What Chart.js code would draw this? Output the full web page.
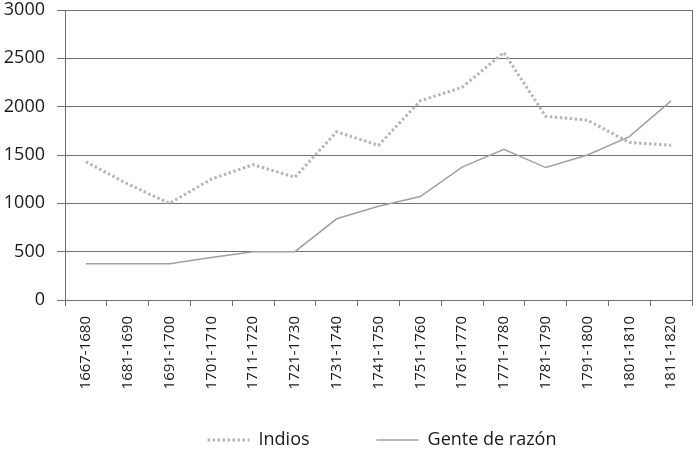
<!DOCTYPE html>
<html>
<head>
<meta charset="utf-8">
<script src="https://cdn.jsdelivr.net/npm/chart.js@4.4.1/dist/chart.umd.min.js"></script>
<style>
html,body{margin:0;padding:0;background:#fff;}
#wrap{width:696px;height:452px;}
</style>
</head>
<body>
<div id="wrap"><canvas id="c" width="696" height="452"></canvas></div>
<script>
const periods = ["1667-1680","1681-1690","1691-1700","1701-1710","1711-1720","1721-1730","1731-1740","1741-1750","1751-1760","1761-1770","1771-1780","1781-1790","1791-1800","1801-1810","1811-1820"]
const indios = [1430,1200,1000,1250,1400,1270,1740,1600,2060,2200,2560,1900,1860,1630,1600]
const genteDeRazon = [375,375,375,440,500,500,840,970,1070,1375,1560,1370,1500,1690,2060]
const yTicks = [0,500,1000,1500,2000,2500,3000]

const gridColor = "#707070"
const legendPad = 67
const legendFont = 18
const legendCenterY = 440
const legendShift = 34

// right edge of the plot box + legend row placement
const boxTweaks = {
id:"boxTweaks",
afterLayout(chart){
const lg = chart.legend
if(lg){
lg.top = legendCenterY - legendFont/2 - legendPad
lg.left += legendShift
lg.right += legendShift
}
},
afterDraw(chart){
const a = chart.chartArea
const ctx = chart.ctx
ctx.save()
ctx.strokeStyle = gridColor
ctx.lineWidth = 1
ctx.beginPath()
ctx.moveTo(Math.round(a.right)+0.5, a.top)
ctx.lineTo(Math.round(a.right)+0.5, a.bottom)
ctx.stroke()
ctx.restore()
}
}

new Chart(document.getElementById("c"),{
type:"line",
data:{
labels:periods,
datasets:[
{
label:"Indios",
data:indios,
borderColor:"#b5b5b5",
borderWidth:3,
borderDash:[2.5,2.5],
pointRadius:0,
tension:0
},
{
label:"Gente de razón",
data:genteDeRazon,
borderColor:"#a0a0a0",
borderWidth:1.5,
pointRadius:0,
tension:0
}
]
},
options:{
responsive:false,
animation:false,
layout:{padding:0},
plugins:{
tooltip:{enabled:false},
legend:{
position:"bottom",
maxHeight:60,
labels:{
usePointStyle:true,
pointStyleWidth:42,
padding:legendPad,
color:"#1a1a1a",
font:{family:"'Open Sans', sans-serif",size:legendFont},
generateLabels(chart){
return chart.data.datasets.map((ds,i)=>({
text:ds.label,
datasetIndex:i,
pointStyle:"line",
strokeStyle:ds.borderColor,
fillStyle:ds.borderColor,
fontColor:"#1a1a1a",
lineWidth:ds.borderWidth,
lineDash:ds.borderDash || [],
hidden:false
}))
}
}
}
},
scales:{
x:{
offset:true,
grid:{offset:true,drawOnChartArea:false,drawTicks:true,tickLength:6,color:gridColor},
border:{display:true,color:gridColor},
ticks:{
autoSkip:false,minRotation:90,maxRotation:90,padding:10,
color:"#1a1a1a",
font:{family:"'Open Sans', sans-serif",size:15}
},
afterFit(scale){
scale.height = 92
scale.paddingLeft = 0
scale.paddingRight = 4
}
},
y:{
min:0,max:3000,
afterBuildTicks(scale){ scale.ticks = yTicks.map(v=>({value:v})) },
grid:{color:gridColor,tickLength:8},
border:{display:true,color:gridColor},
ticks:{
padding:12,
color:"#1a1a1a",
font:{family:"'Open Sans', sans-serif",size:18,lineHeight:1.1},
callback:v=>String(v)
},
afterFit(scale){
scale.width = 65
scale.paddingTop = 10
scale.paddingBottom = 0
}
}
}
},
plugins:[boxTweaks]
})
</script>
</body>
</html>
